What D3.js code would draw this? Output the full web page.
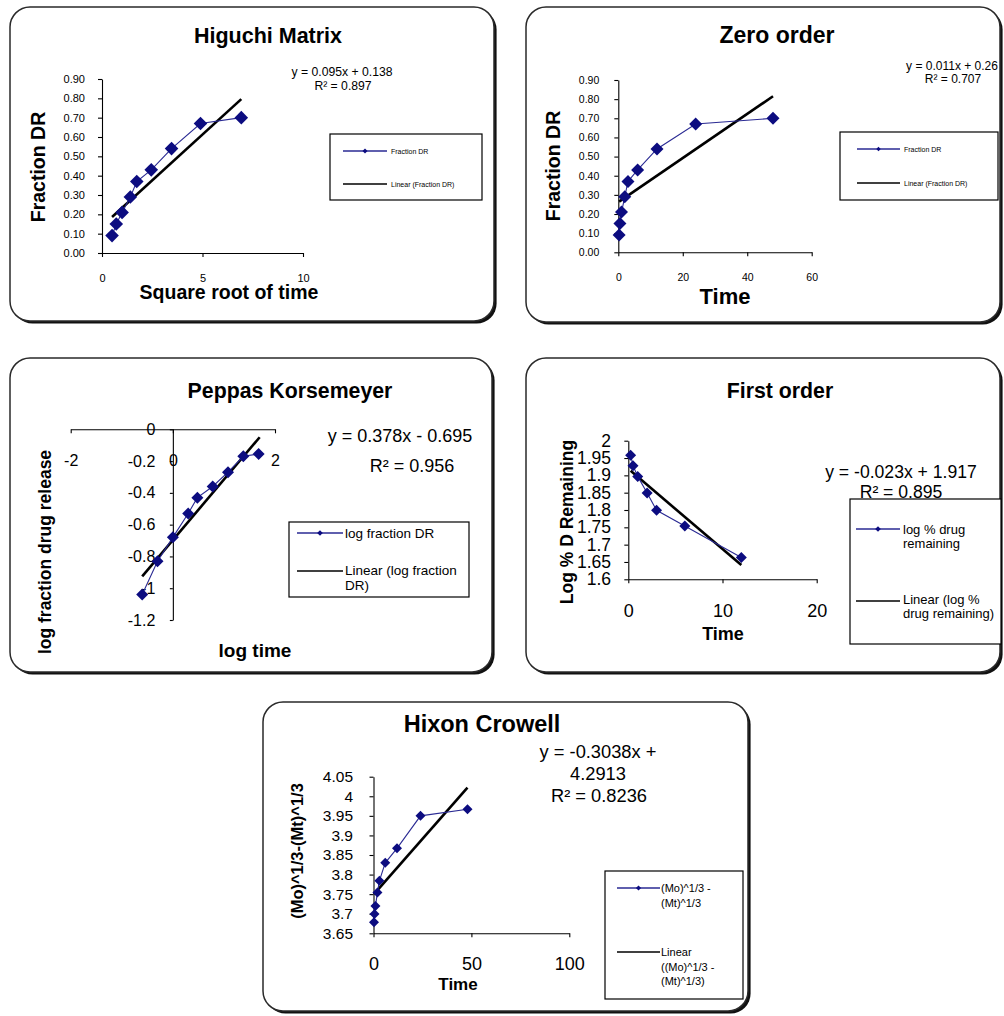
<!DOCTYPE html>
<html><head><meta charset="utf-8">
<script src="https://cdn.jsdelivr.net/npm/d3@7"></script>
<style>
body{margin:0;background:#fff}
svg{display:block}
text{font-family:"Liberation Sans",Arial,sans-serif;fill:#000}
</style>
</head><body>
<svg id="c" width="1004" height="1016"></svg>
<script>
// ---------------- DATA ----------------
const times = [0.25, 0.5, 1, 2, 3, 6, 12, 24, 48];
const sqrtTime = [0.5, 0.71, 1, 1.41, 1.73, 2.45, 3.46, 4.9, 6.93];
const fractionDR = [0.09, 0.15, 0.21, 0.29, 0.37, 0.43, 0.54, 0.67, 0.70];
const logTime = [-0.6, -0.3, 0, 0.3, 0.48, 0.78, 1.08, 1.38, 1.68];
const logFractionDR = [-1.04, -0.83, -0.68, -0.53, -0.43, -0.36, -0.27, -0.17, -0.155];
const firstOrderTime = [0.25, 0.5, 1, 2, 3, 6, 12];
const logDrugRemaining = [1.958, 1.928, 1.897, 1.849, 1.799, 1.754, 1.663];
const hixonValues = [3.678, 3.699, 3.72, 3.754, 3.784, 3.83, 3.867, 3.95, 3.967];

// trendline end points [x, y]
const higuchiFit = [[0.5, 0.186], [6.93, 0.796]];
const zeroFit = [[0.25, 0.265], [48, 0.815]];
const peppasFit = [[-0.6, -0.925], [1.7, -0.05]];
const firstFit = [[0.25, 1.913], [12, 1.641]];
const hixonFit = [[0.25, 3.75], [48, 4.022]];

// tick values and labels
const fracTicks = [0, 0.1, 0.2, 0.3, 0.4, 0.5, 0.6, 0.7, 0.8, 0.9];
const fracTickLabels = ["0.00","0.10","0.20","0.30","0.40","0.50","0.60","0.70","0.80","0.90"];
const higuchiXTicks = [0, 5, 10];
const higuchiXLabels = ["0", "5", "10"];
const zeroXTicks = [0, 20, 40, 60];
const zeroXLabels = ["0", "20", "40", "60"];
const peppasXTicks = [-2, 0, 2];
const peppasXLabels = ["-2", "0", "2"];
const peppasYTicks = [0, -0.2, -0.4, -0.6, -0.8, -1, -1.2];
const peppasYLabels = ["0", "-0.2", "-0.4", "-0.6", "-0.8", "-1", "-1.2"];
const firstXTicks = [0, 10, 20];
const firstXLabels = ["0", "10", "20"];
const firstYTicks = [2, 1.95, 1.9, 1.85, 1.8, 1.75, 1.7, 1.65, 1.6];
const firstYLabels = ["2", "1.95", "1.9", "1.85", "1.8", "1.75", "1.7", "1.65", "1.6"];
const hixonXTicks = [0, 50, 100];
const hixonXLabels = ["0", "50", "100"];
const hixonYTicks = [4.05, 4, 3.95, 3.9, 3.85, 3.8, 3.75, 3.7, 3.65];
const hixonYLabels = ["4.05", "4", "3.95", "3.9", "3.85", "3.8", "3.75", "3.7", "3.65"];

// ---------------- DRAWING ----------------
const svg = d3.select("#c");
const SERIES = "#2a2a93", MARK = "#0c0c80";

function diamond(r){ return `M0,${-r}L${r},0L0,${r}L${-r},0Z`; }

function box(b){
  const [x,y,w,h] = b;
  svg.append("rect").attr("x",x+2.6).attr("y",y+2.6).attr("width",w).attr("height",h)
    .attr("rx",20).attr("fill","#111");
  svg.append("rect").attr("x",x).attr("y",y).attr("width",w).attr("height",h)
    .attr("rx",20).attr("fill","#fff").attr("stroke","#2a2a2a").attr("stroke-width",1.5);
}

function text(g, x, y, s, size, opt={}){
  const t = g.append("text").attr("x",x).attr("y",y).text(s)
    .attr("font-size",size).attr("text-anchor",opt.anchor||"middle")
    .attr("font-weight",opt.bold?"bold":"normal");
  if(opt.rot){ t.attr("transform",`rotate(-90,${x},${y})`).attr("dy","0.35em"); }
  return t;
}

function panel(c){
  box(c.box);
  const g = svg.append("g");
  const x = d3.scaleLinear().domain(c.xDomain).range(c.xRange);
  const y = d3.scaleLinear().domain(c.yDomain).range(c.yRange);
  const xAxisY = c.xAxisAt !== undefined ? y(c.xAxisAt) : c.yRange[0];
  const yAxisX = c.yAxisAt !== undefined ? x(c.yAxisAt) : c.xRange[0];

  const xa = g.append("g").attr("transform",`translate(0,${xAxisY})`)
    .call(d3.axisBottom(x).tickValues(c.xTicks).tickFormat((d,i)=>c.xLabels[i])
      .tickSize(4).tickSizeOuter(0).tickPadding(c.xPad));
  const ya = g.append("g").attr("transform",`translate(${yAxisX},0)`)
    .call(d3.axisLeft(y).tickValues(c.yTicks).tickFormat((d,i)=>c.yLabels[i])
      .tickSize(c.yTick||4).tickSizeOuter(0).tickPadding(c.yPad));
  [xa,ya].forEach(a=>{
    a.attr("font-family",null).attr("font-size",null);
    a.selectAll("path,line").attr("stroke","#000").attr("stroke-width",1.1);
  });
  xa.selectAll("text").attr("font-size",c.xFs).attr("fill","#111");
  ya.selectAll("text").attr("font-size",c.yFs).attr("fill","#111");

  // trendline
  g.append("line").attr("x1",x(c.fit[0][0])).attr("y1",y(c.fit[0][1]))
    .attr("x2",x(c.fit[1][0])).attr("y2",y(c.fit[1][1]))
    .attr("stroke","#000").attr("stroke-width",2.6);
  // series
  const pts = c.xs.map((v,i)=>[v,c.ys[i]]);
  g.append("path").datum(pts)
    .attr("d",d3.line().x(d=>x(d[0])).y(d=>y(d[1])))
    .attr("fill","none").attr("stroke",SERIES).attr("stroke-width",1.1);
  g.selectAll(".m").data(pts).join("path")
    .attr("transform",d=>`translate(${x(d[0])},${y(d[1])})`)
    .attr("d",diamond(c.mr)).attr("fill",MARK);

  // texts
  text(g, c.title[1], c.title[2], c.title[0], c.title[3], {bold:true});
  text(g, c.xTitle[1], c.xTitle[2], c.xTitle[0], c.xTitle[3], {bold:true});
  text(g, c.yTitle[1], c.yTitle[2], c.yTitle[0], c.yTitle[3], {bold:true, rot:true});
  c.eq.forEach(e=>text(g, e[1], e[2], e[0], c.eqFs).attr("fill","#111"));

  // legend
  const L = c.legend;
  g.append("rect").attr("x",L.box[0]).attr("y",L.box[1]).attr("width",L.box[2]).attr("height",L.box[3])
    .attr("fill","#fff").attr("stroke","#000").attr("stroke-width",1.2);
  L.items.forEach((it,k)=>{
    g.append("line").attr("x1",L.lx[0]).attr("x2",L.lx[1]).attr("y1",it.y).attr("y2",it.y)
      .attr("stroke",k===0?SERIES:"#000").attr("stroke-width",1.4);
    if(k===0) g.append("path").attr("transform",`translate(${(L.lx[0]+L.lx[1])/2},${it.y})`)
      .attr("d",diamond(L.mr)).attr("fill",MARK);
    it.lines.forEach((s,j)=>text(g, L.tx, it.base + j*L.lh, s, L.fs, {anchor:"start"}).attr("fill","#222"));
  });
}

// ---------- Higuchi Matrix ----------
panel({
  box:[10,7,484,314],
  title:["Higuchi Matrix",268,43,21.5],
  xDomain:[0,10], xRange:[102,303], yDomain:[0,0.9], yRange:[253,79],
  xTicks:higuchiXTicks, xLabels:higuchiXLabels, xPad:17, xFs:11,
  yTicks:fracTicks, yLabels:fracTickLabels, yPad:13, yFs:11,
  xs:sqrtTime, ys:fractionDR, fit:higuchiFit, mr:6.8,
  xTitle:["Square root of time",229,298.5,19.5],
  yTitle:["Fraction DR",38,167,19.5],
  eq:[["y = 0.095x + 0.138",342,76],["R² = 0.897",343,90]], eqFs:12.2,
  legend:{box:[330,134,152,66], lx:[343,387], tx:391, fs:7, lh:9, mr:2.5,
    items:[{y:151,base:153.5,lines:["Fraction DR"]},{y:184,base:186.5,lines:["Linear (Fraction DR)"]}]}
});

// ---------- Zero order ----------
panel({
  box:[526,7,474,315],
  title:["Zero order",777,43,23],
  xDomain:[0,60], xRange:[618.3,811.7], yDomain:[0,0.9], yRange:[252.3,80],
  xTicks:zeroXTicks, xLabels:zeroXLabels, xPad:17, xFs:10.5,
  yTicks:fracTicks, yLabels:fracTickLabels, yPad:15, yFs:10.5,
  xs:times, ys:fractionDR, fit:zeroFit, mr:6.5,
  xTitle:["Time",725,304,22],
  yTitle:["Fraction DR",553,166,19.5],
  eq:[["y = 0.011x + 0.26",952,70],["R² = 0.707",953,83]], eqFs:12,
  legend:{box:[840,132,158,68], lx:[857,900], tx:904, fs:7, lh:9, mr:2.2,
    items:[{y:149,base:151.5,lines:["Fraction DR"]},{y:183,base:185.5,lines:["Linear (Fraction DR)"]}]}
});

// ---------- Peppas Korsemeyer ----------
panel({
  box:[10,358,482,314],
  title:["Peppas Korsemeyer",290,398,21.3],
  xDomain:[-2,2], xRange:[70.7,275], yDomain:[-1.2,0], yRange:[620,429.3],
  xAxisAt:0, yAxisAt:0,
  xTicks:peppasXTicks, xLabels:peppasXLabels, xPad:21, xFs:16,
  yTicks:peppasYTicks, yLabels:peppasYLabels, yPad:14.5, yTick:3, yFs:16,
  xs:logTime, ys:logFractionDR, fit:peppasFit, mr:6,
  xTitle:["log time",255,657,19],
  yTitle:["log fraction drug release",45,552,17.5],
  eq:[["y = 0.378x - 0.695",400,442],["R² = 0.956",412,472]], eqFs:18,
  legend:{box:[289,522,180,75], lx:[297,343], tx:345, fs:13.5, lh:15, mr:2.8,
    items:[{y:533,base:537.5,lines:["log fraction DR"]},{y:571,base:575,lines:["Linear (log fraction","DR)"]}]}
});

// ---------- First order ----------
panel({
  box:[526,358,474,314],
  title:["First order",780,398,21.3],
  xDomain:[0,20], xRange:[628.3,816.7], yDomain:[1.6,2], yRange:[579.3,440.7],
  xTicks:firstXTicks, xLabels:firstXLabels, xPad:21, xFs:18,
  yTicks:firstYTicks, yLabels:firstYLabels, yPad:13.3, yFs:17.5,
  xs:firstOrderTime, ys:logDrugRemaining, fit:firstFit, mr:5.5,
  xTitle:["Time",723,640,18],
  yTitle:["Log % D Remaining",567,522,17.5],
  eq:[["y = -0.023x + 1.917",901,478],["R² = 0.895",901,498]], eqFs:17.6,
  legend:{box:[850,499,151,145], lx:[856,900], tx:903, fs:13, lh:14, mr:2.8,
    items:[{y:529,base:534,lines:["log % drug","remaining"]},{y:601,base:603.5,lines:["Linear (log %","drug remaining)"]}]}
});

// ---------- Hixon Crowell ----------
panel({
  box:[263,702,485,309],
  title:["Hixon Crowell",482,732,23.5],
  xDomain:[0,100], xRange:[373.5,569.3], yDomain:[3.65,4.05], yRange:[933.3,776.7],
  xTicks:hixonXTicks, xLabels:hixonXLabels, xPad:20, xFs:18,
  yTicks:hixonYTicks, yLabels:hixonYLabels, yPad:16.5, yFs:15.5,
  xs:times, ys:hixonValues, fit:hixonFit, mr:5,
  xTitle:["Time",458,990,17],
  yTitle:["(Mo)^1/3-(Mt)^1/3",297,851,16.5],
  eq:[["y = -0.3038x +",598,758],["4.2913",598,780],["R² = 0.8236",599,802]], eqFs:18.3,
  legend:{box:[605,871,138,128], lx:[617,660], tx:661, fs:11, lh:14.5, mr:2.6,
    items:[{y:888,base:892,lines:["(Mo)^1/3 -","(Mt)^1/3"]},{y:952,base:956,lines:["Linear","((Mo)^1/3 -","(Mt)^1/3)"]}]}
});
</script>
</body></html>
